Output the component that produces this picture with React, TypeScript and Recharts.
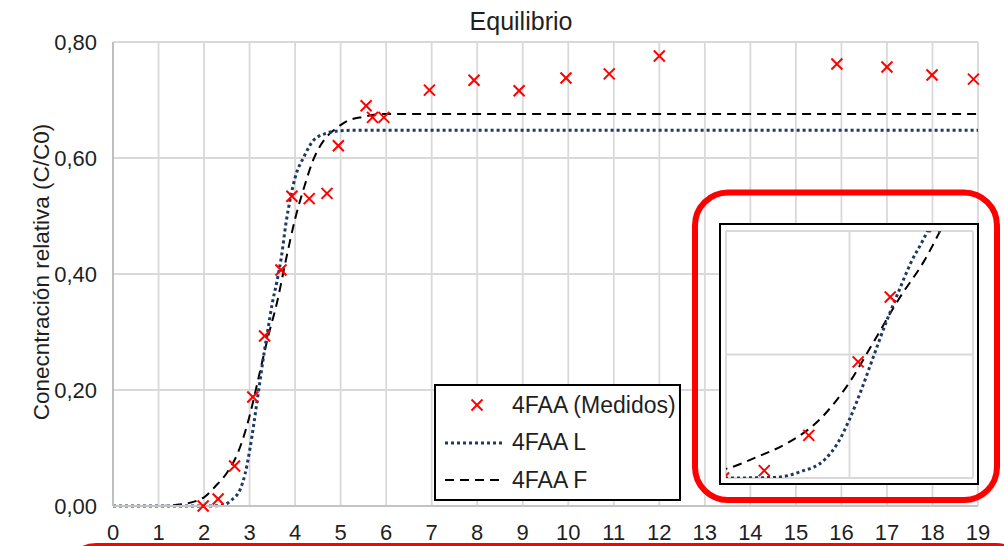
import React from "react";
import {
  ComposedChart,
  Line,
  Scatter,
  XAxis,
  YAxis,
  CartesianGrid,
  Label,
} from "recharts";

const FONT = "'Liberation Sans', Arial, Helvetica, sans-serif";
const TEXT = "#1f1f1f";

// 4FAA measured points (tiempo, C/C0)
const medidosX = [1.98, 2.31, 2.67, 3.07, 3.33, 3.69, 3.93, 4.31, 4.7, 4.95, 5.56, 5.7, 5.95, 6.95, 7.93, 8.92, 9.95, 10.9, 12.0, 15.9, 17.0, 17.99, 18.9];
const medidosY = [0.0, 0.012, 0.069, 0.188, 0.293, 0.407, 0.534, 0.53, 0.539, 0.621, 0.69, 0.67, 0.67, 0.717, 0.734, 0.716, 0.738, 0.745, 0.776, 0.762, 0.757, 0.743, 0.736];

// fitted curve L (dotted)
const curvaLX = [0, 1.5, 2.0, 2.4, 2.6, 2.8, 2.9, 3.0, 3.1, 3.2, 3.3, 3.4, 3.5, 3.6, 3.7, 3.8, 3.9, 4.0, 4.2, 4.4, 4.7, 5.0, 5.5, 19];
const curvaLY = [0, 0, 0, 0.001, 0.01, 0.03, 0.055, 0.095, 0.145, 0.2, 0.254, 0.303, 0.35, 0.387, 0.43, 0.488, 0.532, 0.566, 0.603, 0.63, 0.643, 0.647, 0.648, 0.648];

// fitted curve F (dashed)
const curvaFX = [0, 1.0, 1.5, 2.0, 2.25, 2.5, 2.75, 3.0, 3.2, 3.4, 3.6, 3.8, 4.0, 4.2, 4.4, 4.7, 4.9, 5.1, 5.5, 6.0, 19];
const curvaFY = [0, 0, 0.003, 0.015, 0.034, 0.057, 0.093, 0.155, 0.222, 0.29, 0.35, 0.425, 0.495, 0.55, 0.597, 0.637, 0.651, 0.662, 0.671, 0.676, 0.676];

const xTicks = [0, 1, 2, 3, 4, 5, 6, 7, 8, 9, 10, 11, 12, 13, 14, 15, 16, 17, 18, 19];
const yTicks = [0, 0.2, 0.4, 0.6, 0.8];
const insetXTicks = [2, 3, 4];
const insetYTicks = [0, 0.2, 0.4];

const seriesNames = ["4FAA (Medidos)", "4FAA L", "4FAA F"];

const medidos = medidosX.map((x, i) => ({ x, y: medidosY[i] }));
const curvaL = curvaLX.map((x, i) => ({ x, y: curvaLY[i] }));
const curvaF = curvaFX.map((x, i) => ({ x, y: curvaFY[i] }));

const RED = "#ff0000";
const NAVY = "#1f3864";
const L_STYLE = { stroke: NAVY, strokeWidth: 3, strokeDasharray: "3 3" };
const F_STYLE = { stroke: "#000000", strokeWidth: 2, strokeDasharray: "9 6" };

const fmtComma = (v: number) => v.toFixed(2).replace(".", ",");

function Cross(props: any) {
  const { cx, cy } = props;
  if (cx == null || cy == null) return null;
  const s = 5.5;
  return (
    <g>
      <line x1={cx - s} y1={cy - s} x2={cx + s} y2={cy + s} stroke={RED} strokeWidth={2} />
      <line x1={cx - s} y1={cy + s} x2={cx + s} y2={cy - s} stroke={RED} strokeWidth={2} />
    </g>
  );
}

function YLabel(props: any) {
  const vb = props.viewBox || { x: 0, y: 0, width: 0, height: 0 };
  const x = vb.x + 41;
  const y = vb.y + vb.height / 2 - 2;
  return (
    <text
      x={x}
      y={y}
      transform={`rotate(-90 ${x} ${y})`}
      textAnchor="middle"
      dominantBaseline="central"
      fill={TEXT}
      fontSize={22.5}
      fontFamily={FONT}
    >
      Conecntración relativa (C/C0)
    </text>
  );
}

function LegendBox() {
  const rows = [0, 1, 2];
  return (
    <div
      style={{
        position: "absolute",
        left: 434,
        top: 384,
        width: 247,
        height: 117,
        border: "2px solid #000",
        boxSizing: "border-box",
        background: "#fff",
      }}
    >
      {rows.map((i) => (
        <div
          key={i}
          style={{
            position: "absolute",
            left: 0,
            top: 1 + i * 37.5,
            height: 36,
            width: 245,
            display: "flex",
            alignItems: "center",
          }}
        >
          <svg width={74} height={20} style={{ flex: "none" }}>
            {i === 0 && <Cross cx={41} cy={10} />}
            {i === 1 && <line x1={9} y1={10} x2={68} y2={10} {...L_STYLE} />}
            {i === 2 && <line x1={9} y1={10} x2={68} y2={10} {...F_STYLE} />}
          </svg>
          <span style={{ marginLeft: 2, fontFamily: FONT, fontSize: 23, color: TEXT, whiteSpace: "nowrap" }}>
            {seriesNames[i]}
          </span>
        </div>
      ))}
    </div>
  );
}

export default function App() {
  const tick = { fill: TEXT, fontSize: 22, fontFamily: FONT };
  return (
    <div style={{ position: "relative", width: 1004, height: 546, overflow: "hidden", background: "#fff" }}>
      <style>{`body{margin:0;}`}</style>
      <div
        style={{
          position: "absolute",
          left: 421,
          top: 7,
          width: 200,
          textAlign: "center",
          fontFamily: FONT,
          fontSize: 25,
          lineHeight: "28px",
          color: TEXT,
        }}
      >
        Equilibrio
      </div>

      <ComposedChart width={1004} height={546} margin={{ top: 42, right: 26, bottom: 0, left: 0 }}>
        <CartesianGrid stroke="#d9d9d9" strokeWidth={1.8} />
        <XAxis
          type="number"
          dataKey="x"
          domain={[0, 19]}
          ticks={xTicks}
          interval={0}
          height={40}
          tickSize={0}
          tickMargin={18}
          tickLine={false}
          axisLine={{ stroke: "#c4c4c4", strokeWidth: 2 }}
          tick={tick}
        />
        <YAxis
          type="number"
          dataKey="y"
          domain={[0, 0.8]}
          ticks={yTicks}
          width={113}
          tickSize={0}
          tickMargin={16}
          tickLine={false}
          axisLine={{ stroke: "#bfbfbf", strokeWidth: 2 }}
          tick={tick}
          tickFormatter={fmtComma}
        >
          <Label content={YLabel} />
        </YAxis>
        <Line data={curvaF} dataKey="y" name={seriesNames[2]} type="monotone" {...F_STYLE} dot={false} activeDot={false} isAnimationActive={false} />
        <Line data={curvaL} dataKey="y" name={seriesNames[1]} type="monotone" {...L_STYLE} dot={false} activeDot={false} isAnimationActive={false} />
        <Scatter data={medidos} name={seriesNames[0]} shape={(p: any) => <Cross {...p} />} isAnimationActive={false} />
      </ComposedChart>

      <LegendBox />

      <div
        style={{
          position: "absolute",
          left: 719,
          top: 223,
          width: 260,
          height: 262,
          border: "2px solid #000",
          boxSizing: "border-box",
          background: "#fff",
        }}
      >
        <ComposedChart width={256} height={258} margin={{ top: 6, right: 4, bottom: 5, left: 5 }}>
          <CartesianGrid stroke="#d9d9d9" strokeWidth={1.8} />
          <XAxis type="number" dataKey="x" domain={[2, 4]} ticks={insetXTicks} hide allowDataOverflow />
          <YAxis type="number" dataKey="y" domain={[0, 0.4]} ticks={insetYTicks} hide allowDataOverflow />
          <Line data={curvaF} dataKey="y" type="monotone" {...F_STYLE} dot={false} activeDot={false} isAnimationActive={false} />
          <Line data={curvaL} dataKey="y" type="monotone" {...L_STYLE} dot={false} activeDot={false} isAnimationActive={false} />
          <Scatter data={medidos} shape={(p: any) => <Cross {...p} />} isAnimationActive={false} />
        </ComposedChart>
      </div>

      <svg width={1004} height={546} style={{ position: "absolute", left: 0, top: 0, pointerEvents: "none" }}>
        <rect x={695} y={192.5} width={302} height={307.5} rx={33} fill="none" stroke={RED} strokeWidth={6} />
        <rect x={66} y={545.5} width={960} height={100} rx={30} fill="none" stroke={RED} strokeWidth={5} />
      </svg>
    </div>
  );
}
